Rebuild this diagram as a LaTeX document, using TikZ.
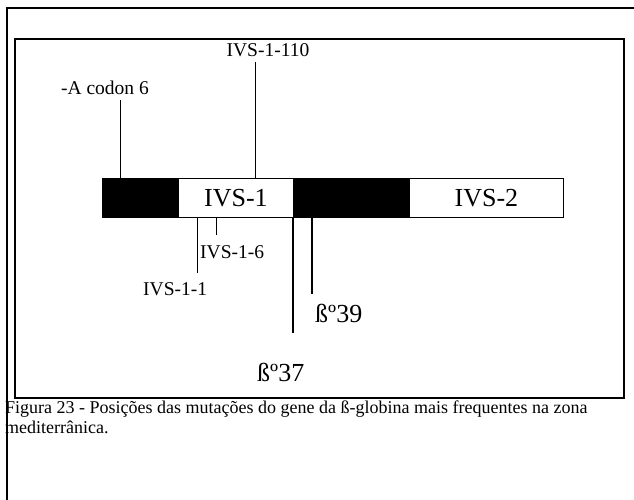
\documentclass[tikz,border=0pt]{standalone}
\usepackage{fontspec}
\setmainfont{Liberation Serif}
\begin{document}
\begin{tikzpicture}[x=1pt,y=-1pt,
  frame/.style={line width=2pt},
  exon/.style={draw=black,fill=black,line width=0.8pt,minimum height=39pt,inner sep=0pt,anchor=north west},
  intron/.style={draw=black,fill=white,line width=0.8pt,minimum height=39pt,inner sep=0pt,anchor=north west,font=\fontsize{26}{28}\selectfont},
  small/.style={font=\fontsize{19.5}{22}\selectfont,inner sep=0pt},
  big/.style={font=\fontsize{26}{28}\selectfont,inner sep=0pt},
  mut/.style={line width=1pt},
  caption/.style={font=\fontsize{18}{20}\selectfont,inner sep=0pt,anchor=base west}]
\useasboundingbox (0,0) rectangle (634,500);
% frames
\coordinate (obl) at (7,500);
\coordinate (otl) at (7,8);
\coordinate (otr) at (634,8);
\draw[frame] (obl) -- (otl) -- (otr);
\draw[frame] (15,39) rectangle (624,398);
% gene
\node[exon,minimum width=76pt] (ex1) at (102,178) {};
\node[intron,minimum width=115pt] (ivs1) at (178,178) {IVS-1};
\node[exon,minimum width=115pt] (ex2) at (293,178) {};
\node[intron,minimum width=154pt] (ivs2) at (409,178) {IVS-2};
% labels above
\node[small] (lc6) at (105,88) {-A codon 6};
\node[small] (l110) at (268,50) {IVS-1-110};
\coordinate (c6) at (120,100);
\coordinate (c110) at (255,62);
\draw[mut] (c6) -- (c6 |- ex1.north);
\draw[mut] (c110) -- (c110 |- ivs1.north);
% labels below
\node[small,anchor=west] (l16) at (200,252) {IVS-1-6};
\node[small,anchor=west] (l11) at (143,289) {IVS-1-1};
\node[big,anchor=west] (l39) at (315,313) {ßº39};
\node[big,anchor=west] (l37) at (257,372) {ßº37};
\coordinate (e11) at (197,273);
\coordinate (e16) at (216,235);
\coordinate (e37) at (293,333);
\coordinate (e39) at (312,294);
\draw[mut,line width=0.8pt] (e11 |- ivs1.south) -- (e11);
\draw[mut] (e16 |- ivs1.south) -- (e16);
\draw[mut,line width=1.3pt] (e37 |- ivs1.south) -- (e37);
\draw[mut,line width=1.3pt] (e39 |- ex2.south) -- (e39);
% caption
\node[caption] (cap1) at (5,413) {Figura 23 - Posições das mutações do gene da ß-globina mais frequentes na zona};
\node[caption] (cap2) at (5,433) {mediterrânica.};
\end{tikzpicture}
\end{document}
